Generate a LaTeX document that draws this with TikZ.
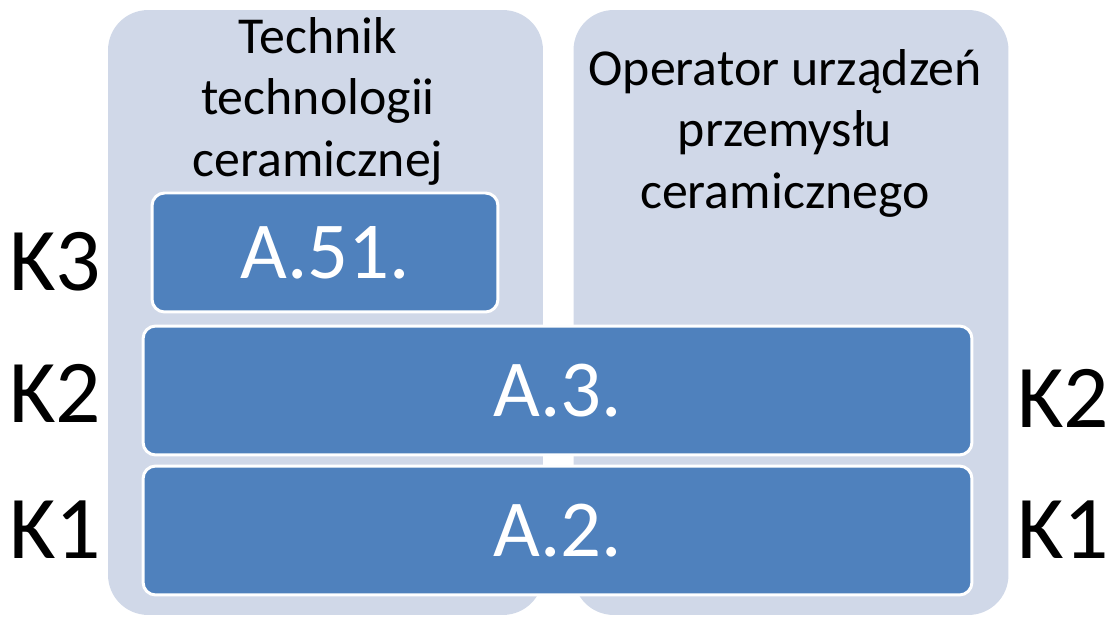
\documentclass[tikz,border=0pt]{standalone}
\usepackage{fontspec}
\setmainfont{Carlito}
\usepackage{xcolor}
\usepackage{tikz}
\usetikzlibrary{positioning}
\definecolor{panelgray}{HTML}{D0D8E8}
\definecolor{levelblue}{HTML}{4F81BD}
\tikzstyle{panel} = [rectangle, rounded corners=0.8cm, fill=panelgray, minimum width=8.7cm, minimum height=12.1cm, inner sep=0pt]
\tikzstyle{level} = [rectangle, rounded corners=0.25cm, fill=levelblue, draw=white, line width=1.7pt, text=white, font=\fontsize{46}{50}\selectfont, inner sep=0pt]
\tikzstyle{title} = [align=center, font=\fontsize{29.5}{35}\selectfont, text=black]
\tikzstyle{klabel} = [font=\fontsize{51}{55}\selectfont, text=black]

\begin{document}
\begin{tikzpicture}[x=0.02cm, y=-0.02cm]
    \useasboundingbox (0,0) rectangle (1111,617);
    % Panels
    \node [panel] (tech) at (325.5,312.5) {};
    \node [panel] (oper) at (791,312.5) {};
    \node [title] (techname) at (318,101) {Technik\\technologii\\ceramicznej};
    \node [title] (opername) at (785,133) {Operator urządzeń\\przemysłu\\ceramicznego};
    % Qualification boxes
    \node [level, minimum width=6.92cm, minimum height=2.38cm] (a51) at (325,252.5) {A.51.};
    \node [level, minimum width=16.58cm, minimum height=2.58cm] (a3) at (557.5,390.5) {A.3.};
    \node [level, minimum width=16.58cm, minimum height=2.58cm] (a2) at (557.5,530.5) {A.2.};
    % Levels
    \node [klabel] (k3) at (55,262) {K3};
    \node [klabel] (k2l) at (55,393) {K2};
    \node [klabel] (k1l) at (55,530) {K1};
    \node [klabel] (k2r) at (1063,398) {K2};
    \node [klabel] (k1r) at (1063,530) {K1};
\end{tikzpicture}
\end{document}
